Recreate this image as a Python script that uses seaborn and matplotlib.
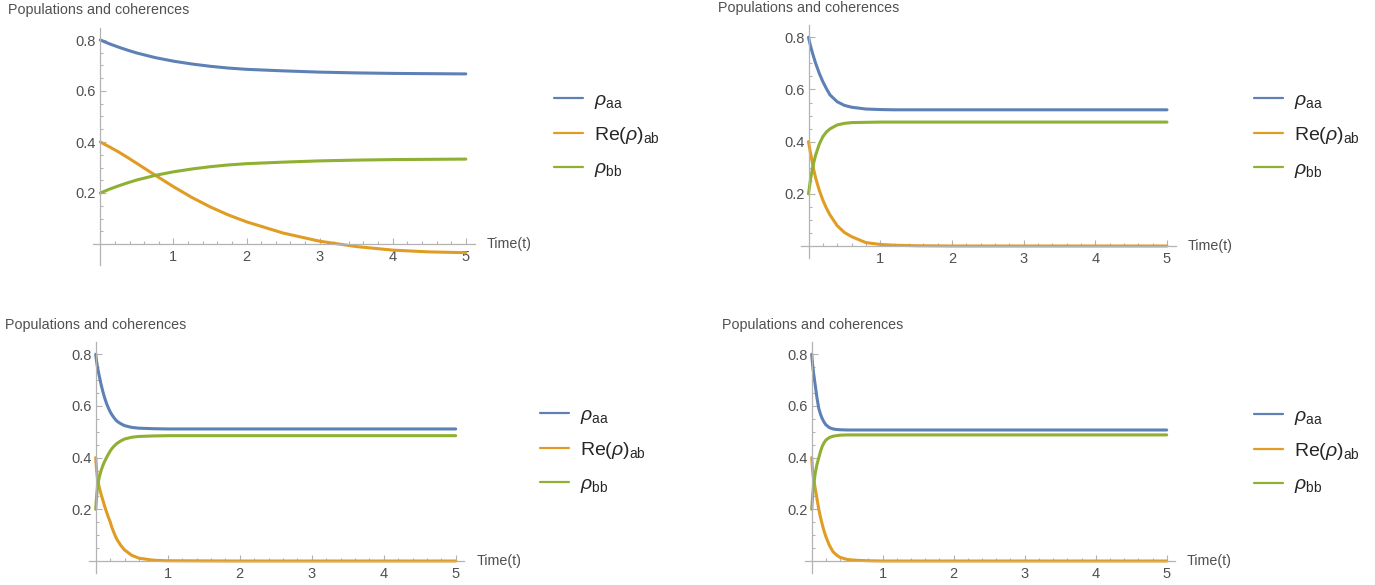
import numpy as np
import pandas as pd
import seaborn as sns
from matplotlib import pyplot as plt
from matplotlib.lines import Line2D
from matplotlib.ticker import FixedLocator

# values
t1 = [0, 0.125, 0.25, 0.375, 0.5, 0.75, 1, 1.25, 1.5, 1.75, 2, 2.5, 3, 3.5, 4, 4.5, 5]
aa1 = [0.8, 0.785, 0.772, 0.760, 0.749, 0.731, 0.717, 0.706, 0.697, 0.690, 0.685, 0.679, 0.674, 0.671, 0.669, 0.668, 0.667]
ab1 = [0.4, 0.381, 0.361, 0.339, 0.316, 0.27, 0.225, 0.183, 0.146, 0.114, 0.087, 0.043, 0.011, -0.010, -0.024, -0.031, -0.034]
bb1 = [0.2, 0.215, 0.228, 0.240, 0.251, 0.269, 0.283, 0.294, 0.303, 0.310, 0.315, 0.321, 0.326, 0.329, 0.331, 0.332, 0.333]

t2 = [0, 0.025, 0.05, 0.075, 0.1, 0.15, 0.2, 0.25, 0.3, 0.4, 0.5, 0.6, 0.8, 1.0, 1.2, 1.5, 2, 3, 4, 5]
aa2 = [0.8, 0.77, 0.745, 0.722, 0.70, 0.662, 0.63, 0.603, 0.579, 0.553, 0.539, 0.532, 0.525, 0.523, 0.522, 0.522, 0.522, 0.522, 0.522, 0.522]
ab2 = [0.4, 0.36, 0.325, 0.29, 0.26, 0.214, 0.176, 0.145, 0.119, 0.078, 0.052, 0.036, 0.013, 0.006, 0.003, 0.001, 0.0, 0.0, 0.0, 0.0]
bb2 = [0.2, 0.25, 0.29, 0.322, 0.349, 0.39, 0.419, 0.437, 0.449, 0.464, 0.47, 0.473, 0.474, 0.475, 0.475, 0.475, 0.475, 0.475, 0.475, 0.475]

t3 = [0, 0.0125, 0.025, 0.05, 0.075, 0.1, 0.125, 0.15, 0.175, 0.2, 0.225, 0.25, 0.275, 0.3, 0.35, 0.4, 0.5, 0.6, 0.8, 1, 2, 3, 4, 5]
aa3 = [0.8, 0.772, 0.75, 0.715, 0.683, 0.655, 0.631, 0.61, 0.593, 0.578, 0.566, 0.556, 0.547, 0.54, 0.531, 0.524, 0.517, 0.514, 0.512, 0.511, 0.511, 0.511, 0.511, 0.511]
ab3 = [0.4, 0.352, 0.318, 0.285, 0.258, 0.235, 0.211, 0.19, 0.17, 0.152, 0.13, 0.112, 0.095, 0.081, 0.06, 0.043, 0.022, 0.011, 0.003, 0.001, 0.0, 0.0, 0.0, 0.0]
bb3 = [0.2, 0.25, 0.29, 0.325, 0.35, 0.37, 0.386, 0.40, 0.413, 0.425, 0.435, 0.443, 0.45, 0.456, 0.465, 0.472, 0.479, 0.482, 0.484, 0.485, 0.485, 0.485, 0.485, 0.485]

t4 = [0, 0.0125, 0.025, 0.05, 0.075, 0.1, 0.125, 0.15, 0.175, 0.2, 0.25, 0.3, 0.35, 0.4, 0.5, 0.6, 0.8, 1, 2, 3, 4, 5]
aa4 = [0.8, 0.76, 0.73, 0.68, 0.63, 0.59, 0.567, 0.55, 0.537, 0.527, 0.516, 0.511, 0.509, 0.508, 0.507, 0.507, 0.507, 0.507, 0.507, 0.507, 0.507, 0.507]
ab4 = [0.4, 0.35, 0.32, 0.28, 0.24, 0.2, 0.168, 0.14, 0.115, 0.094, 0.06, 0.036, 0.023, 0.014, 0.006, 0.003, 0.001, 0.0, 0.0, 0.0, 0.0, 0.0]
bb4 = [0.2, 0.25, 0.29, 0.34, 0.375, 0.40, 0.425, 0.445, 0.458, 0.468, 0.478, 0.483, 0.485, 0.487, 0.488, 0.488, 0.488, 0.488, 0.488, 0.488, 0.488, 0.488]

labels = [r'$\rho_{\mathrm{aa}}$', r'$\mathrm{Re}(\rho)_{\mathrm{ab}}$', r'$\rho_{\mathrm{bb}}$']
colors = ['#5E81B5', '#E19C24', '#8FB032']
title = "Populations and coherences"

sns.set_style("white")
plt.rcParams['font.family'] = ['Liberation Sans', 'DejaVu Sans']
plt.rcParams['mathtext.fontset'] = 'custom'
plt.rcParams['mathtext.rm'] = 'Liberation Sans'
plt.rcParams['mathtext.it'] = 'Liberation Sans:italic'

W, H = 1375, 585
fig = plt.figure(figsize=(W / 100, H / 100), dpi=100)

# (origin x px, origin y px, px per unit x, px per unit y, ymin, title pos, legend pos)
layout = [
    (100.3, 244.0, 73.1, 255.0, -0.082, (8, 10), (554, 135.3)),
    (808.5, 246.0, 71.7, 260.9, -0.046, (718, 8), (1254, 135.7)),
    (95.7, 561.0, 72.0, 258.4, -0.046, (5, 325), (540, 450.8)),
    (811.7, 561.0, 71.0, 258.4, -0.046, (722, 325), (1254, 451.2)),
]
panels = [(t1, aa1, ab1, bb1), (t2, aa2, ab2, bb2), (t3, aa3, ab3, bb3), (t4, aa4, ab4, bb4)]

axis_col = '#b3b3b3'
text_col = '#505050'

for (t, aa, ab, bb), (x0, y0, sx, sy, ymin, tpos, lpos) in zip(panels, layout):
    xlim = (-0.1, 5.12)
    ylim = (ymin, 0.846)
    left = x0 + xlim[0] * sx
    right = x0 + xlim[1] * sx
    top = y0 - ylim[1] * sy
    bottom = y0 - ylim[0] * sy
    ax = fig.add_axes([left / W, 1 - bottom / H, (right - left) / W, (bottom - top) / H])

    df = pd.DataFrame({
        "t": t * 3,
        "value": aa + ab + bb,
        "series": [labels[0]] * len(t) + [labels[1]] * len(t) + [labels[2]] * len(t),
    })
    sns.lineplot(data=df, x="t", y="value", hue="series", hue_order=labels,
                 palette=dict(zip(labels, colors)), estimator=None, sort=True,
                 legend=False, lw=2.2, ax=ax)
    ax.set_xlim(*xlim)
    ax.set_ylim(*ylim)
    ax.set_xlabel("")
    ax.set_ylabel("")

    for s in ("top", "right"):
        ax.spines[s].set_visible(False)
    ax.spines["left"].set_position(("data", 0))
    ax.spines["bottom"].set_position(("data", 0))
    for s in ("left", "bottom"):
        ax.spines[s].set_color(axis_col)
        ax.spines[s].set_linewidth(0.9)

    ax.set_xticks([1, 2, 3, 4, 5])
    ax.set_xticklabels(["1", "2", "3", "4", "5"])
    ax.set_yticks([0.2, 0.4, 0.6, 0.8])
    ax.set_yticklabels(["0.2", "0.4", "0.6", "0.8"])
    ax.xaxis.set_minor_locator(FixedLocator([v for v in np.arange(0.2, 5.01, 0.2) if abs(v - round(v)) > 1e-6]))
    ax.yaxis.set_minor_locator(FixedLocator([v for v in np.arange(0.05, 0.81, 0.05) if abs(v * 5 - round(v * 5)) > 1e-6]))
    ax.tick_params(which="both", direction="in", bottom=True, left=True, color=axis_col,
                   width=0.8, labelcolor=text_col, labelsize=10.5)
    ax.tick_params(which="major", length=4.5)
    ax.tick_params(which="minor", length=2.2)
    ax.tick_params(axis="x", pad=4)
    ax.tick_params(axis="y", pad=3)

    ax.annotate("Time(t)", xy=(1, 0), xycoords=("axes fraction", "data"),
                xytext=(8.5, 0), textcoords="offset points", va="center", ha="left",
                fontsize=10.3, color=text_col)

    fig.text(tpos[0] / W, 1 - tpos[1] / H, title, fontsize=10.3, color=text_col,
             ha="left", va="center")

    handles = [Line2D([], [], color=c, lw=1.6) for c in colors]
    ax.legend(handles, labels, loc="center left",
              bbox_to_anchor=(lpos[0] / W, 1 - lpos[1] / H), bbox_transform=fig.transFigure,
              frameon=False, borderpad=0, borderaxespad=0, handlelength=1.5,
              handletextpad=0.55, labelspacing=0.72, fontsize=14)

fig.savefig("out.png", dpi=100)
